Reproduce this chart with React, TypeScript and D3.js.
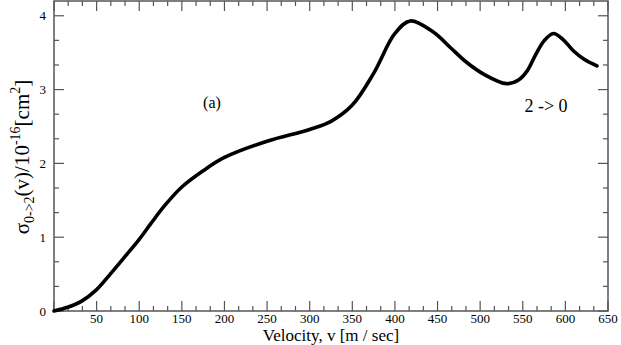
import React from 'react';
import * as d3 from 'd3';

// velocity [m/sec] and cross section [1e-16 cm^2]
const velocity = [0, 16, 32, 50, 66, 82, 100, 114, 130, 150, 175, 200, 250, 300, 325, 350, 375, 400, 418, 445, 465, 484, 504, 531, 545, 555, 565, 575, 586, 597, 609, 622, 637];
const sigma = [0, 0.05, 0.13, 0.29, 0.5, 0.72, 0.97, 1.19, 1.43, 1.68, 1.9, 2.08, 2.3, 2.46, 2.57, 2.79, 3.22, 3.76, 3.93, 3.78, 3.57, 3.37, 3.21, 3.08, 3.13, 3.25, 3.47, 3.66, 3.76, 3.68, 3.53, 3.41, 3.32];

const xMajor = [0, 50, 100, 150, 200, 250, 300, 350, 400, 450, 500, 550, 600, 650];
const yMajor = [0, 1, 2, 3, 4];

const W = 621;
const H = 345;
const left = 54, right = 608, top = 1, bottom = 311;
const serif = "'Liberation Serif', 'DejaVu Serif', serif";
const axisColor = '#555';

export default function App() {
  const x = d3.scaleLinear().domain([0, 650]).range([left, right]);
  const y = d3.scaleLinear().domain([0, 4.2]).range([bottom, top]);

  const xMinor = d3.range(0, 650.01, 50 / 3).filter(v => !xMajor.some(m => Math.abs(m - v) < 1e-6));
  const yMinor = d3.range(0, 4.2, 1 / 3).filter(v => !yMajor.some(m => Math.abs(m - v) < 1e-6));

  const pts = velocity.map((v, i) => [v, sigma[i]] as [number, number]);
  const line = d3.line<[number, number]>()
    .x(d => x(d[0]))
    .y(d => y(d[1]))
    .curve(d3.curveCatmullRom.alpha(0.5));

  const majorLen = 10, minorLen = 5;

  return (
    <svg width={W} height={H} style={{ position: 'absolute', left: 0, top: 0, background: '#fff' }}>
      <rect x={0} y={0} width={W} height={H} fill="#fff" />
      {/* ticks on all four sides, pointing inward */}
      <g stroke={axisColor} strokeWidth={1.2}>
        {xMajor.map(v => (
          <g key={'xM' + v}>
            <line x1={x(v)} x2={x(v)} y1={bottom} y2={bottom - majorLen} />
            <line x1={x(v)} x2={x(v)} y1={top} y2={top + majorLen} />
          </g>
        ))}
        {xMinor.map(v => (
          <g key={'xm' + v}>
            <line x1={x(v)} x2={x(v)} y1={bottom} y2={bottom - minorLen} />
            <line x1={x(v)} x2={x(v)} y1={top} y2={top + minorLen} />
          </g>
        ))}
        {yMajor.map(v => (
          <g key={'yM' + v}>
            <line x1={left} x2={left + majorLen} y1={y(v)} y2={y(v)} />
            <line x1={right} x2={right - majorLen} y1={y(v)} y2={y(v)} />
          </g>
        ))}
        {yMinor.map(v => (
          <g key={'ym' + v}>
            <line x1={left} x2={left + minorLen} y1={y(v)} y2={y(v)} />
            <line x1={right} x2={right - minorLen} y1={y(v)} y2={y(v)} />
          </g>
        ))}
      </g>
      <rect x={left} y={top} width={right - left} height={bottom - top} fill="none" stroke={axisColor} strokeWidth={1.5} />

      {/* tick labels */}
      {xMajor.filter(v => v > 0).map(v => (
        <text key={'xl' + v} x={x(v)} y={bottom + 12} textAnchor="middle" fontFamily={serif} fontSize={13} fill="#000">{v}</text>
      ))}
      {yMajor.map(v => (
        <text key={'yl' + v} x={left - 8} y={y(v) + 4.5} textAnchor="end" fontFamily={serif} fontSize={13} fill="#000">{v}</text>
      ))}

      {/* curve */}
      <path d={line(pts) || ''} fill="none" stroke="#000" strokeWidth={3.6} strokeLinejoin="round" strokeLinecap="round" />

      {/* axis titles */}
      <text x={(left + right) / 2} y={341} textAnchor="middle" fontFamily={serif} fontSize={17} fill="#000">
        Velocity, v [m / sec]
      </text>
      <text transform="translate(29,157) rotate(-90)" textAnchor="middle" fontFamily={serif} fontSize={21} fill="#000">
        <tspan>σ</tspan>
        <tspan fontSize={14} dy={5}>0-&gt;2</tspan>
        <tspan dy={-5}>(v)/10</tspan>
        <tspan fontSize={14} dy={-9}>-16</tspan>
        <tspan dy={9}>[cm</tspan>
        <tspan fontSize={14} dy={-9}>2</tspan>
        <tspan dy={9}>]</tspan>
      </text>

      {/* annotations */}
      <text x={212} y={108} textAnchor="middle" fontFamily={serif} fontSize={16} fill="#000">(a)</text>
      <text x={546} y={112} textAnchor="middle" fontFamily={serif} fontSize={18} fill="#000">2 -&gt; 0</text>
    </svg>
  );
}
